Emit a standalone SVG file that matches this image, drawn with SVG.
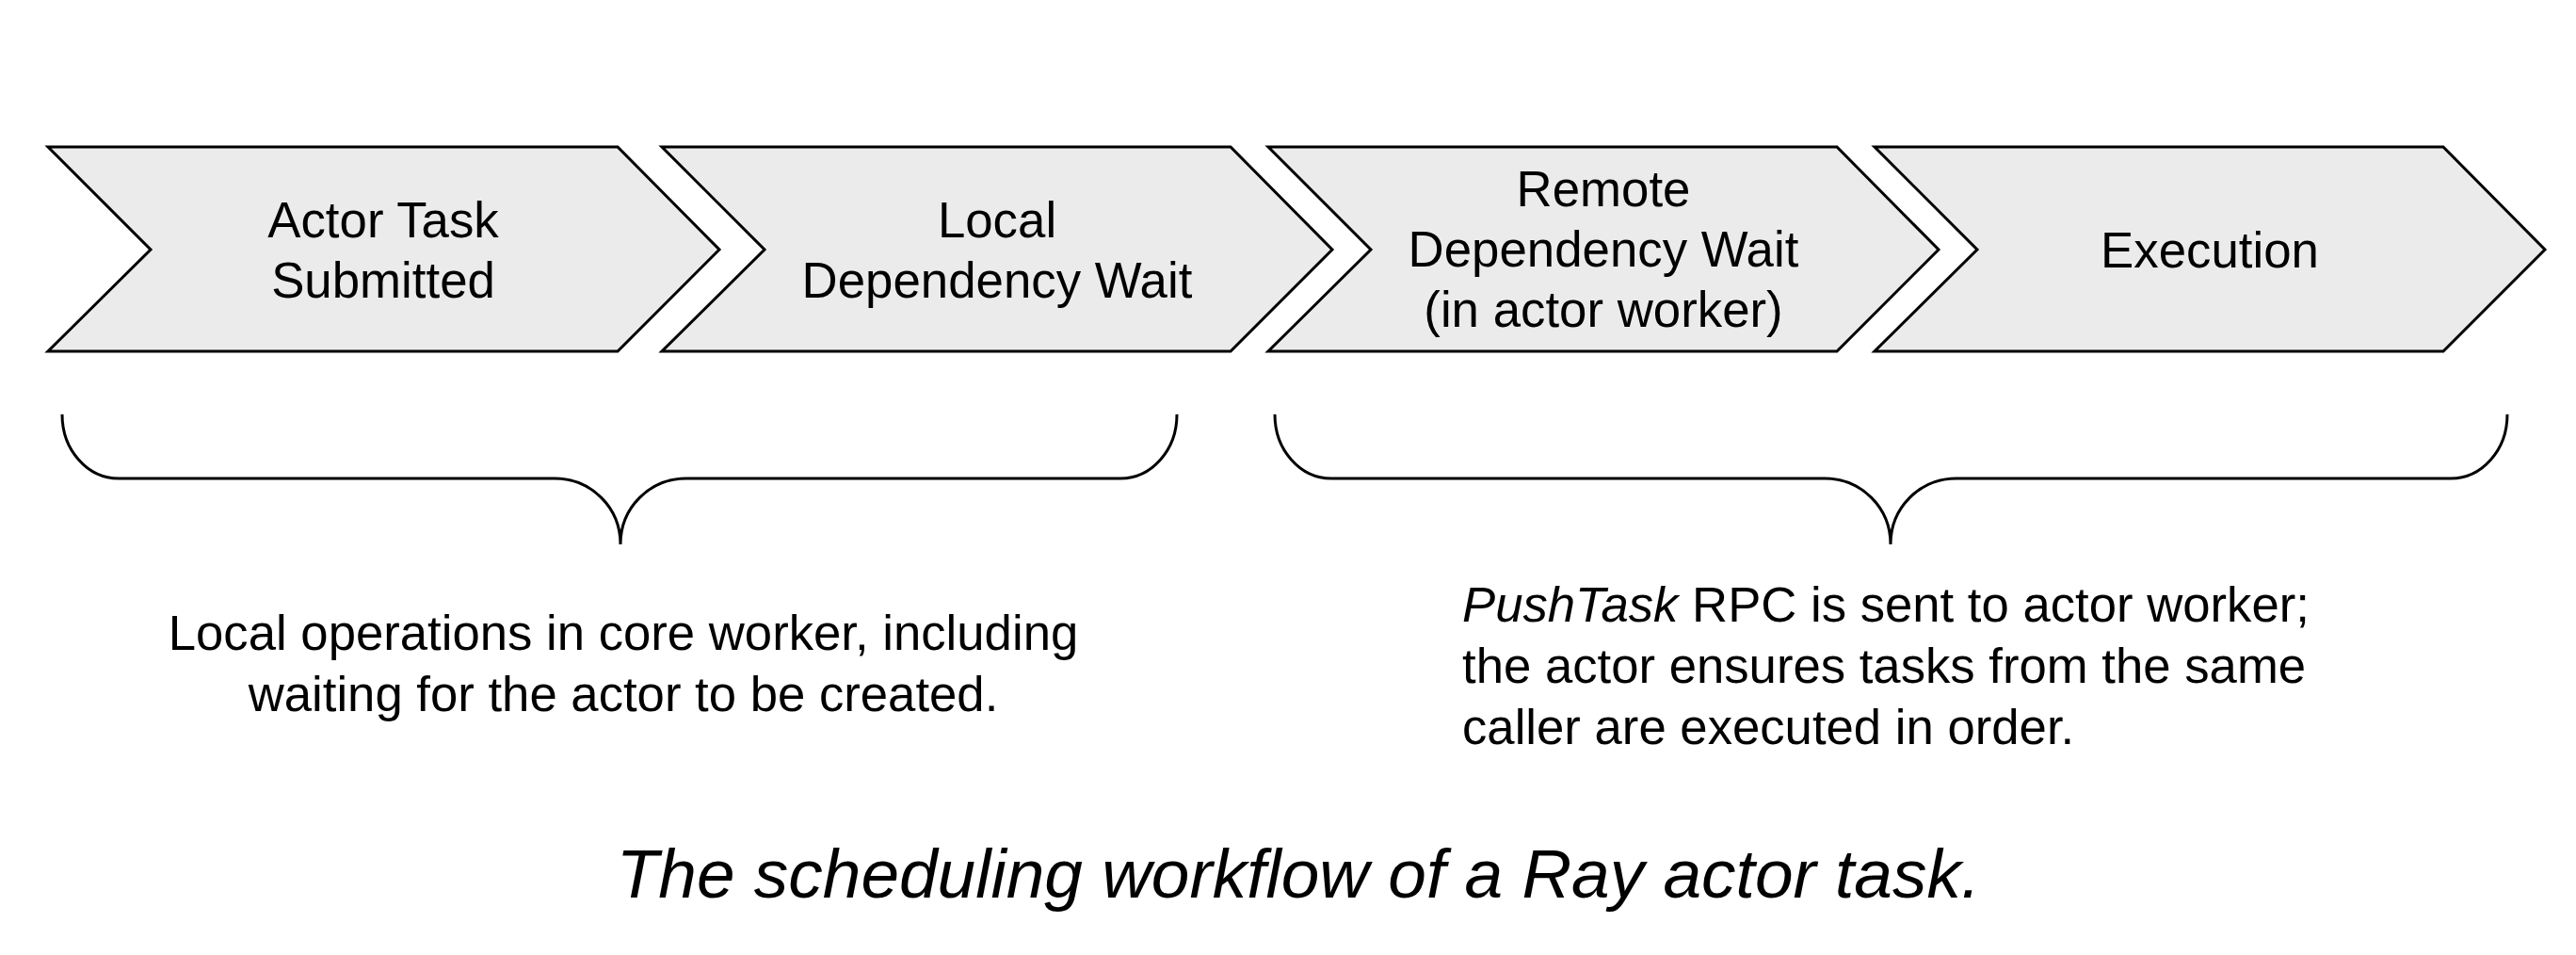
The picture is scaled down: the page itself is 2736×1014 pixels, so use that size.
<svg xmlns="http://www.w3.org/2000/svg" width="2736" height="1014" viewBox="0 0 2736 1014">
<style>
.chev{fill:#ebebeb;stroke:#000;stroke-width:3;stroke-linejoin:miter}
.lbl{font-family:"Liberation Sans",Arial,sans-serif;font-size:52.8px;fill:#000;text-anchor:middle}
.para{font-family:"Liberation Sans",Arial,sans-serif;font-size:52.7px;fill:#000}
.brace{fill:none;stroke:#000;stroke-width:3}
.cap{font-family:"Liberation Sans",Arial,sans-serif;font-size:73px;font-style:italic;fill:#000;text-anchor:middle}
</style>
<rect width="2736" height="1014" fill="#fff"/>
<g id="node-submitted">
<polygon class="chev" points="51,156 656,156 764,265 656,373 51,373 160,265"/>
<text class="lbl" x="407" y="252">Actor Task</text>
<text class="lbl" x="407" y="316">Submitted</text>
</g>
<g id="node-local-wait">
<polygon class="chev" points="703,156 1307,156 1415,265 1307,373 703,373 812,265"/>
<text class="lbl" x="1059" y="252">Local</text>
<text class="lbl" x="1059" y="316">Dependency Wait</text>
</g>
<g id="node-remote-wait">
<polygon class="chev" points="1347,156 1951,156 2059,265 1951,373 1347,373 1456,265"/>
<text class="lbl" x="1703" y="219">Remote</text>
<text class="lbl" x="1703" y="283">Dependency Wait</text>
<text class="lbl" x="1703" y="347">(in actor worker)</text>
</g>
<g id="node-execution">
<polygon class="chev" points="1991,156 2595,156 2703,265 2595,373 1991,373 2100,265"/>
<text class="lbl" x="2347" y="284">Execution</text>
</g>
<g id="connectors">
<path class="brace" d="M66,440 C66,478 93,508 126,508 L589,508 C628,508 659,539 659,578 C659,539 690,508 729,508 L1190,508 C1223,508 1250,478 1250,440"/>
<path class="brace" d="M1354,440 C1354,478 1381,508 1414,508 L1938,508 C1977,508 2008,539 2008,578 C2008,539 2039,508 2078,508 L2603,508 C2636,508 2663,478 2663,440"/>
</g>
<g id="note-left">
<text class="para" text-anchor="middle" x="662" y="690">Local operations in core worker, including</text>
<text class="para" text-anchor="middle" x="662" y="755">waiting for the actor to be created.</text>
</g>
<g id="note-right">
<text class="para" x="1553" y="660"><tspan font-style="italic">PushTask</tspan> RPC is sent to actor worker;</text>
<text class="para" x="1553" y="725">the actor ensures tasks from the same</text>
<text class="para" x="1553" y="790">caller are executed in order.</text>
</g>
<g id="caption">
<text class="cap" x="1379" y="953">The scheduling workflow of a Ray actor task.</text>
</g>
</svg>
